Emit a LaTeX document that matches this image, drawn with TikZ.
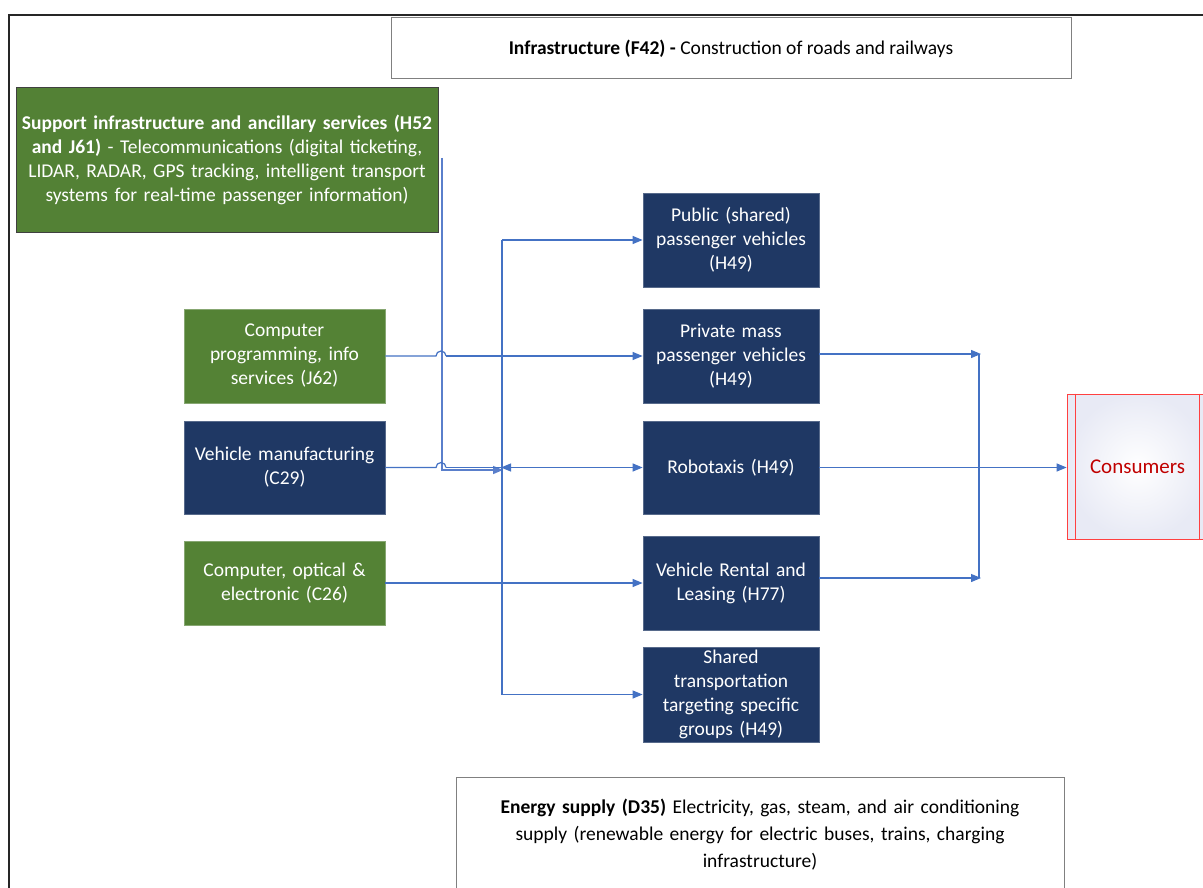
\documentclass[tikz,border=0pt]{standalone}
\usepackage{fontspec}
\setmainfont{Carlito}
\usetikzlibrary{arrows.meta,calc,shadings}
\definecolor{navyc}{HTML}{1F3864}
\definecolor{grnc}{HTML}{548235}
\definecolor{sgrnc}{HTML}{538135}
\definecolor{connc}{HTML}{4472C4}
\definecolor{lconnc}{HTML}{5A7FCB}
\definecolor{credc}{HTML}{C00000}
\definecolor{lavc}{HTML}{E8EAF5}
\begin{document}
\begin{tikzpicture}[x=1pt,y=-1pt,
  txt/.style={font=\fontsize{19.5}{24}\selectfont},
  basebox/.style={rectangle, align=center, inner sep=0pt, txt},
  navybox/.style={basebox, fill=navyc, draw=navyc!75!white, line width=0.8pt, text=white},
  grnbox/.style={basebox, fill=grnc, draw=grnc!70!white, line width=0.8pt, text=white},
  supbox/.style={basebox, fill=sgrnc, draw=black!75, line width=1pt, text=white},
  whitebox/.style={basebox, fill=white, draw=black!50, line width=1pt, text=black},
  consbox/.style={rectangle, draw=red!75, line width=0.8pt, inner color=white, outer color=lavc, text=credc, font=\fontsize{21}{25}\selectfont},
  conn/.style={draw=connc, line width=1.2pt, -{Triangle[length=10pt,width=8pt]}},
  plain/.style={draw=connc, line width=1.2pt},
  sconn/.style={draw=lconnc, line width=1.6pt, -{Triangle[length=10pt,width=8pt]}}
]
\useasboundingbox (0,0) rectangle (1203,888);
\clip (0,0) rectangle (1203,888);
\fill[white] (0,0) rectangle (1203,888);
% outer frame
\draw[line width=2pt, black!85] (9,900) -- (9,15) -- (1220,15);

% nodes
\node[whitebox, minimum width=680, minimum height=61] (infra) at (731,48.5)
  {\textbf{Infrastructure (F42) -} Construction of roads and railways};
\node[supbox, minimum width=422, minimum height=144, text width=422] (support) at (227,160)
  {\textbf{Support infrastructure and ancillary services (H52}\\
   \textbf{and J61)} - Telecommunications (digital ticketing,\\
   LIDAR, RADAR, GPS tracking, intelligent transport\\
   systems for real-time passenger information)};
\node[grnbox, minimum width=201, minimum height=94, text width=201] (cp) at (284.5,356)
  {Computer\\ programming, info\\ services (J62)};
\node[navybox, minimum width=201, minimum height=93, text width=201] (vm) at (284.5,467.5)
  {Vehicle manufacturing\\ (C29)};
\node[grnbox, minimum width=201, minimum height=84, text width=201] (co) at (284.5,583)
  {Computer, optical \&\\ electronic (C26)};
\node[navybox, minimum width=176, minimum height=94, text width=176] (pub) at (731,240)
  {Public (shared)\\ passenger vehicles\\ (H49)};
\node[navybox, minimum width=176, minimum height=94, text width=176] (priv) at (731,356)
  {Private mass\\ passenger vehicles\\ (H49)};
\node[navybox, minimum width=176, minimum height=93, text width=176] (robo) at (731,467.5)
  {Robotaxis (H49)};
\node[navybox, minimum width=176, minimum height=94, text width=176] (rent) at (731,583)
  {Vehicle Rental and\\ Leasing (H77)};
\node[navybox, minimum width=176, minimum height=95, text width=176] (shared) at (731,694.5)
  {Shared\\ transportation\\ targeting specific\\ groups (H49)};
\node[whitebox, minimum width=608, minimum height=116, text width=608, font=\fontsize{19.5}{27}\selectfont] (energy) at (760,835)
  {\textbf{Energy supply (D35)} Electricity, gas, steam, and air conditioning\\
   supply (renewable energy for electric buses, trains, charging\\
   infrastructure)};
\node[consbox, minimum width=141, minimum height=145] (cons) at (1137.5,466.5) {Consumers};
\draw[red!75, line width=0.8pt] ([xshift=9pt]cons.north west) -- ([xshift=9pt]cons.south west);
\draw[red!75, line width=0.8pt] ([xshift=-9pt]cons.north east) -- ([xshift=-9pt]cons.south east);

% coordinates
\coordinate (s0) at ($(support.east)+(3.5,-2)$);
\coordinate (hubT) at (502,240);
\coordinate (hubB) at (502,694.5);
\coordinate (hubM) at (501,467.5);
\coordinate (supEnd) at (503,470);
\coordinate (rt) at (981,354);
\coordinate (rb) at (981,578);
\coordinate (hopA) at (436,356);
\coordinate (hopB) at (436,467.5);

% support connector
\draw[sconn] (s0) |- (supEnd);

% hub vertical
\draw[plain] (hubT) -- (hubB);
\draw[conn] (hubT) -- (pub.west);
\draw[conn] (hubB) -- (shared.west);

% left to middle
\draw[plain] (cp.east) -- (hopA) arc[start angle=180, end angle=360, radius=5];
\draw[conn] ($(hopA)+(10,0)$) -- (priv.west);
\draw[plain] (vm.east) -- (hopB) arc[start angle=180, end angle=360, radius=5];
\draw[conn] ($(hopB)+(10,0)$) -- (robo.west);
\draw[conn] ($(hubM)+(12,0)$) -- (hubM);
\draw[conn] (co.east) -- (rent.west);

% right side
\draw[conn] ([yshift=2pt]priv.east) -- (rt);
\draw[conn] ([yshift=5pt]rent.east) -- (rb);
\draw[plain] ($(rt)+(-2,0)$) -- ($(rb)+(-2,0)$);
\draw[conn] (robo.east) -- (robo.east -| cons.west);
\end{tikzpicture}
\end{document}
